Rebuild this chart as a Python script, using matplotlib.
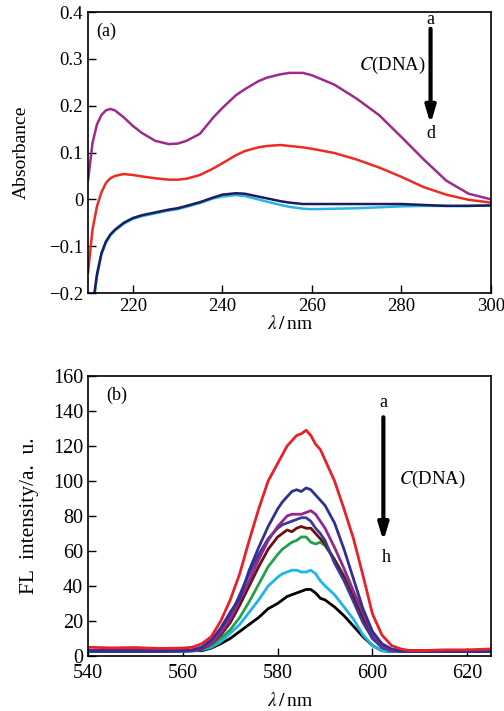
import matplotlib
matplotlib.use("Agg")
import matplotlib.pyplot as plt

plt.rcParams['font.family'] = ['Liberation Serif', 'DejaVu Serif']
plt.rcParams['mathtext.fontset'] = 'stix'

# ---------------- Panel (a): UV absorbance ----------------
wl_a = [210, 211, 212, 213, 214, 215, 216, 218, 220, 222, 225, 228, 230, 232, 235, 238,
        240, 243, 245, 248, 250, 253, 255, 258, 260, 265, 270, 275, 280, 285, 290, 295, 300]
abs_a = [0.04, 0.12, 0.16, 0.18, 0.19, 0.193, 0.19, 0.175, 0.157, 0.142, 0.125, 0.118, 0.119,
         0.125, 0.14, 0.175, 0.195, 0.222, 0.235, 0.252, 0.26, 0.267, 0.27, 0.27, 0.265, 0.245,
         0.215, 0.18, 0.133, 0.085, 0.04, 0.012, 0.0]
abs_b = [-0.157, -0.065, -0.015, 0.015, 0.035, 0.045, 0.05, 0.054, 0.052, 0.049, 0.045, 0.042,
         0.042, 0.044, 0.052, 0.066, 0.077, 0.094, 0.103, 0.111, 0.114, 0.116, 0.114, 0.111,
         0.108, 0.099, 0.085, 0.068, 0.048, 0.026, 0.01, -0.001, -0.007]
abs_c = [-0.3, -0.23, -0.16, -0.115, -0.09, -0.075, -0.065, -0.05, -0.04, -0.034, -0.028,
         -0.022, -0.019, -0.014, -0.006, 0.004, 0.01, 0.013, 0.012, 0.006, 0.002, -0.004,
         -0.007, -0.01, -0.01, -0.01, -0.01, -0.01, -0.01, -0.012, -0.014, -0.014, -0.013]
abs_d = [-0.31, -0.24, -0.165, -0.118, -0.093, -0.077, -0.067, -0.052, -0.042, -0.036, -0.03,
         -0.024, -0.021, -0.016, -0.008, 0.002, 0.006, 0.009, 0.007, 0.0, -0.005, -0.012,
         -0.016, -0.02, -0.021, -0.02, -0.019, -0.017, -0.015, -0.014, -0.014, -0.014, -0.013]
colors_a = ['#9e2a8e', '#ee2a24', '#1b1d5e', '#2bb5e6']
xticks_a = [220, 240, 260, 280, 300]
yticks_a = [-0.2, -0.1, 0, 0.1, 0.2, 0.3, 0.4]
ylabels_a = ['\u22120.2', '\u22120.1', '0', '0.1', '0.2', '0.3', '0.4']

# ---------------- Panel (b): fluorescence ----------------
wl_b = [540, 545, 550, 555, 560, 562, 564, 566, 568, 570, 572, 574, 576, 578,
        580, 581, 582, 583, 584, 585, 586, 587, 588, 589, 590,
        592, 594, 596, 598, 600, 602, 604, 606, 608, 610, 615, 620, 625]
fl_a = [5, 4.6, 4.8, 4.3, 4.5, 5, 7, 11, 20, 32, 47, 66, 84, 100,
        110, 115, 120, 123, 126, 127, 129, 126, 121, 118, 112,
        100, 84, 67, 46, 24, 12, 6, 4, 3, 3, 3.5, 3.5, 4]
fl_b = [3, 3, 2.8, 2.7, 3, 3.5, 5, 9, 16, 25, 33, 49, 62, 74,
        84, 88, 91, 94, 95, 94, 96, 95, 92, 89, 86,
        76, 61, 44, 27, 14, 7, 4, 3, 2.5, 2.5, 2.5, 2.5, 2.5]
fl_c = [3, 3, 2.8, 2.8, 3, 3, 4.5, 7, 13, 21, 32, 43, 55, 66,
        74, 77, 80, 81, 81, 81, 82, 83, 81, 77, 73,
        62, 50, 37, 25, 13, 6, 3.5, 3, 2.8, 2.8, 2.8, 2.8, 2.8]
fl_d = [2.5, 2.5, 2.5, 2.5, 2.8, 3, 5, 9, 15, 23, 35, 47, 58, 67,
        73, 75, 76, 77, 78, 79, 79, 77, 73, 70, 66,
        53, 43, 31, 19, 10, 5, 3, 2.5, 2.5, 2.5, 2.5, 2.5, 2.5]
fl_e = [3, 3, 3, 3, 3, 3, 4, 7, 12, 19, 29, 40, 51, 61,
        68, 70, 72, 71, 73, 74, 73, 73, 70, 67, 64,
        55, 45, 33, 21, 10, 5, 3, 3, 3, 3, 3, 3, 3]
fl_f = [3, 3, 3, 3, 3, 3, 4, 6, 10, 15, 22, 31, 41, 51,
        58, 61, 63, 65, 66, 68, 68, 65, 64, 65, 63,
        55, 46, 35, 22, 11, 5, 3, 3, 3, 3, 3, 3, 3]
fl_g = [2.5, 2.5, 2.5, 2.5, 2.5, 2.8, 3.5, 5, 8, 13, 18, 25, 32, 40,
        45, 47, 48, 49, 49, 48, 48, 49, 47, 43, 40,
        35, 28, 21, 12, 6, 3, 2.5, 2.5, 2.5, 2.5, 2.5, 2.5, 2.5]
fl_h = [3, 3, 3, 3, 3, 3, 3, 4.5, 7, 10, 14, 18, 22, 27,
        30, 32, 34, 35, 36, 37, 38, 38, 36, 33, 32,
        28, 23, 17, 11, 6, 3, 2.5, 2.5, 2.5, 2.5, 2.5, 2.5, 2.5]
colors_b = ['#e8202a', '#2e3192', '#93278f', '#3a3a9a', '#6b1010', '#22a04b', '#1cb5e8', '#000000']
xticks_b = [540, 560, 580, 600, 620]
yticks_b = [0, 20, 40, 60, 80, 100, 120, 140, 160]

fig = plt.figure(figsize=(5.04, 7.11), dpi=100)

# ---- axes (a)
ax1 = fig.add_axes([0.1746, 0.5879, 0.7996, 0.3952])
series_a = [abs_a, abs_b, abs_d, abs_c]
cols_a = [colors_a[0], colors_a[1], colors_a[3], colors_a[2]]
for ys, c in zip(series_a, cols_a):
    ax1.plot(wl_a, ys, color=c, lw=1.8, solid_capstyle='round')
ax1.set_xlim(210, 300)
ax1.set_ylim(-0.2, 0.4)
ax1.set_xticks(xticks_a)
ax1.set_yticks(yticks_a)
ax1.set_yticklabels(ylabels_a)
ax1.tick_params(direction='in', length=6, width=1, labelsize=13.5, top=False, right=False)
ax1.set_ylabel('Absorbance', fontsize=14, labelpad=14)
ax1.set_xlabel(r'$\lambda\,/\,$nm', fontsize=14, labelpad=0)
ax1.text(0.02, 0.93, '(a)', transform=ax1.transAxes, fontsize=13, ha='left', va='center')
ax1.text(286.5, 0.385, 'a', fontsize=13, ha='center', va='center')
ax1.text(286.5, 0.14, 'd', fontsize=13, ha='center', va='center')
ax1.annotate('', xy=(286.5, 0.155), xytext=(286.5, 0.37),
             arrowprops=dict(arrowstyle='-|>,head_width=0.3,head_length=1.0', lw=3.0, color='black'))
ax1.text(285.5, 0.285, r'$C$(DNA)', fontsize=13.5, ha='right', va='center')
for s in ax1.spines.values():
    s.set_linewidth(1.2)

# ---- axes (b)
ax2 = fig.add_axes([0.1746, 0.0774, 0.7996, 0.3938])
series_b = [fl_h, fl_g, fl_f, fl_e, fl_d, fl_c, fl_b, fl_a]
cols_b = colors_b[::-1]
for ys, c in zip(series_b, cols_b):
    ax2.plot(wl_b, ys, color=c, lw=2.0, solid_joinstyle='round')
ax2.set_xlim(540, 625)
ax2.set_ylim(0, 160)
ax2.set_xticks(xticks_b)
ax2.set_yticks(yticks_b)
ax2.tick_params(direction='in', length=6, width=1, labelsize=14.5, top=False, right=False)
ax2.tick_params(axis='x', pad=6)
ax2.set_ylabel('FL  intensity/a.  u.', fontsize=15.5, labelpad=10)
ax2.set_xlabel(r'$\lambda\,/\,$nm', fontsize=14, labelpad=6)
ax2.text(0.045, 0.93, '(b)', transform=ax2.transAxes, fontsize=13, ha='left', va='center')
ax2.text(602.3, 145, 'a', fontsize=13, ha='center', va='center')
ax2.text(603.0, 56, 'h', fontsize=13, ha='center', va='center')
ax2.annotate('', xy=(602.3, 64), xytext=(602.3, 138),
             arrowprops=dict(arrowstyle='-|>,head_width=0.3,head_length=1.0', lw=3.0, color='black'))
ax2.text(605.5, 101, r'$C$(DNA)', fontsize=13.5, ha='left', va='center')
for s in ax2.spines.values():
    s.set_linewidth(1.2)

fig.savefig('out.png', dpi=100)
